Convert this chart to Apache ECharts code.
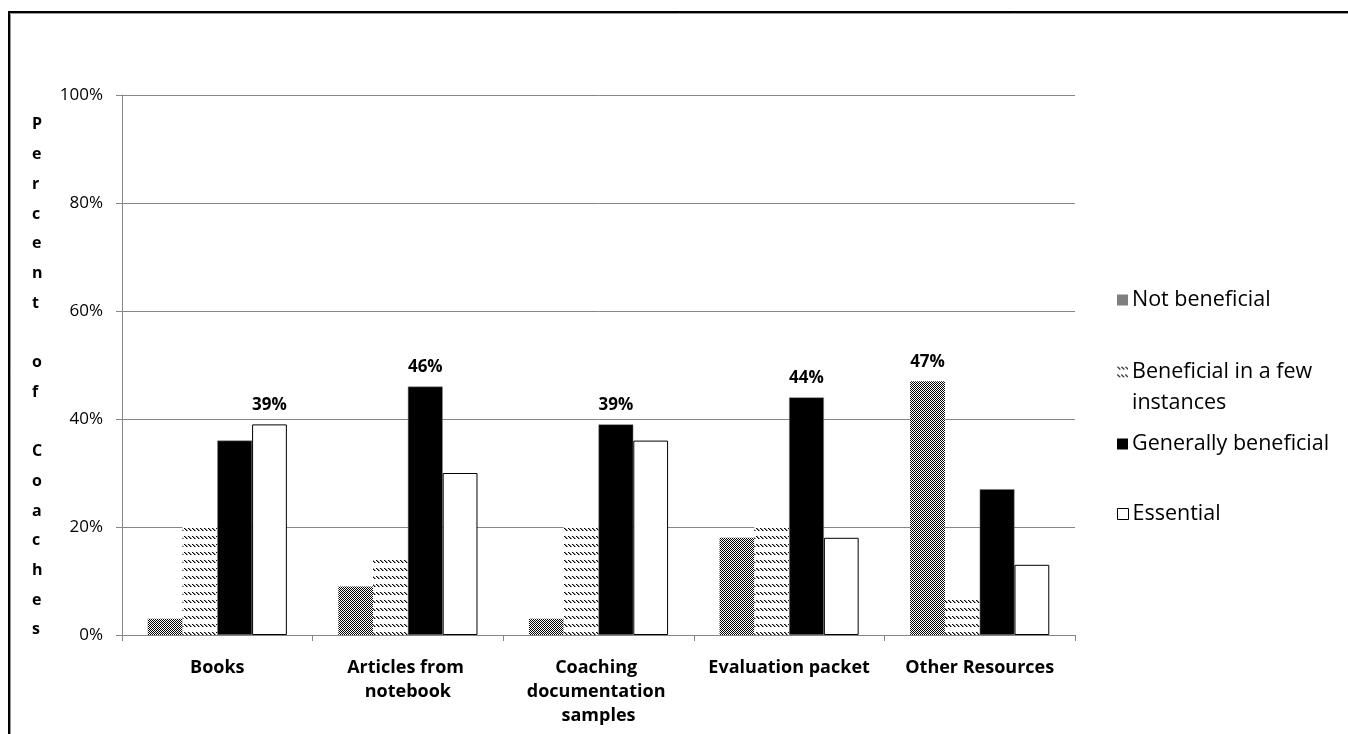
<!DOCTYPE html>
<html>
<head>
<meta charset="utf-8">
<script src="https://cdn.jsdelivr.net/npm/echarts@6/dist/echarts.min.js"></script>
<style>
  html, body { margin: 0; padding: 0; background: #fff; }
  #chart { width: 1348px; height: 734px; }
</style>
</head>
<body>
<div id="chart"></div>
<script>
// Survey resources and how beneficial coaches found them (percent of coaches)
const categories = ['Books', 'Articles from notebook', 'Coaching documentation samples', 'Evaluation packet', 'Other Resources'];
const seriesNames = ['Not beneficial', 'Beneficial in a few instances', 'Generally beneficial', 'Essential'];
const notBeneficial = [3, 9, 3, 18, 47];
const fewInstances = [20, 14, 20, 20, 7];
const generally = [36, 46, 39, 44, 27];
const essential = [39, 30, 36, 18, 13];
const yTicks = [0, 20, 40, 60, 80, 100];
const axisTitle = 'Percent of Coaches';

const FONT = '"Open Sans", "Noto Sans", sans-serif';

// Fill patterns: a fine checkerboard and rows of short back-slash dashes
function checkerPattern() {
  const c = document.createElement('canvas');
  c.width = 2; c.height = 2;
  const g = c.getContext('2d');
  g.fillStyle = '#fff'; g.fillRect(0, 0, 2, 2);
  g.fillStyle = '#000';
  g.fillRect(0, 0, 1, 1); g.fillRect(1, 1, 1, 1);
  return c;
}
function dashPattern() {
  const c = document.createElement('canvas');
  c.width = 4; c.height = 8;
  const g = c.getContext('2d');
  g.fillStyle = '#fff'; g.fillRect(0, 0, 4, 8);
  g.fillStyle = '#000';
  g.fillRect(0, 0, 1, 1); g.fillRect(1, 1, 1, 1); g.fillRect(2, 2, 1, 1);
  g.fillStyle = '#888';
  g.fillRect(1, 0, 1, 1); g.fillRect(2, 1, 1, 1); g.fillRect(3, 2, 1, 1);
  return c;
}

const allSeries = [notBeneficial, fewInstances, generally, essential];
// value label only on the tallest bar of each category
const maxPerCat = categories.map((_, i) => Math.max(...allSeries.map(s => s[i])));

function withLabels(values) {
  return values.map((v, i) => ({
    value: v,
    label: { show: v === maxPerCat[i] }
  }));
}

const fills = [
  { image: checkerPattern(), repeat: 'repeat' },
  { image: dashPattern(), repeat: 'repeat' },
  '#000',
  '#fff'
];
const borders = [
  { borderWidth: 0 },
  { borderWidth: 0 },
  { borderColor: '#7f7f7f', borderWidth: 0.5 },
  { borderColor: '#000', borderWidth: 1 }
];

const series = allSeries.map((vals, k) => ({
  name: seriesNames[k],
  type: 'bar',
  data: withLabels(vals),
  barGap: '0%',
  barCategoryGap: '27%',
  itemStyle: Object.assign({ color: fills[k] }, borders[k]),
  label: {
    position: 'top',
    distance: 11,
    formatter: '{c}%',
    color: '#000',
    fontFamily: FONT,
    fontWeight: 'bold',
    fontSize: 17
  },
  emphasis: { disabled: true }
}));

const legendCenters = [298, 370, 442, 512];
const legends = seriesNames.map((name, k) => ({
  data: [name],
  left: 1112,
  top: legendCenters[k] - 17,
  orient: 'vertical',
  icon: 'rect',
  itemWidth: 11,
  itemHeight: 11,
  itemGap: 8,
  itemStyle: { borderWidth: k === 3 ? 1 : 0, borderColor: '#000' },
  selectedMode: false,
  formatter: n => (n === 'Beneficial in a few instances' ? 'Beneficial in a few' : n),
  textStyle: { fontFamily: FONT, fontSize: 21.5, color: '#000', lineHeight: 28, padding: [0, 0, 0, -1] }
}));

const letters = axisTitle.split('').join('\n');

const chart = echarts.init(document.getElementById('chart'), null, { renderer: 'canvas' });
chart.setOption({
  animation: false,
  backgroundColor: '#fff',
  grid: { left: 122, right: 273, top: 95, bottom: 99, containLabel: false },
  legend: legends,
  xAxis: {
    type: 'category',
    data: categories,
    axisLine: { lineStyle: { color: '#868686', width: 1 } },
    axisTick: { show: true, length: 6, lineStyle: { color: '#868686' } },
    axisLabel: {
      interval: 0,
      margin: 21,
      width: 185,
      overflow: 'break',
      color: '#000',
      fontFamily: FONT,
      fontWeight: 'bold',
      fontSize: 18,
      lineHeight: 24
    }
  },
  yAxis: {
    type: 'value',
    min: 0,
    max: 100,
    interval: 20,
    axisLine: { show: true, lineStyle: { color: '#868686' } },
    axisTick: { show: true, length: 6, inside: false, lineStyle: { color: '#868686' } },
    splitLine: { lineStyle: { color: '#868686', width: 1 } },
    axisLabel: {
      margin: 19,
      color: '#000',
      fontFamily: FONT,
      fontSize: 17,
      formatter: v => (yTicks.includes(v) ? v + '%' : '')
    }
  },
  series: series,
  graphic: [
    {
      type: 'rect', silent: true,
      shape: { x: 9, y: 12, width: 1400, height: 800 },
      style: { fill: 'none', stroke: '#000', lineWidth: 2 }
    },
    {
      type: 'rect', silent: true,
      shape: { x: 10.5, y: 13.5, width: 1400, height: 800 },
      style: { fill: 'none', stroke: '#999', lineWidth: 1 }
    },
    {
      type: 'text', silent: true,
      left: 32, top: 110,
      style: {
        text: letters,
        font: 'bold 16px ' + FONT,
        fill: '#000',
        lineHeight: 29.7,
        align: 'center'
      }
    },
    {
      type: 'text', silent: true,
      left: 1132, top: 392,
      style: { text: 'instances', font: '21.5px ' + FONT, fill: '#000' }
    }
  ]
});
</script>
</body>
</html>
